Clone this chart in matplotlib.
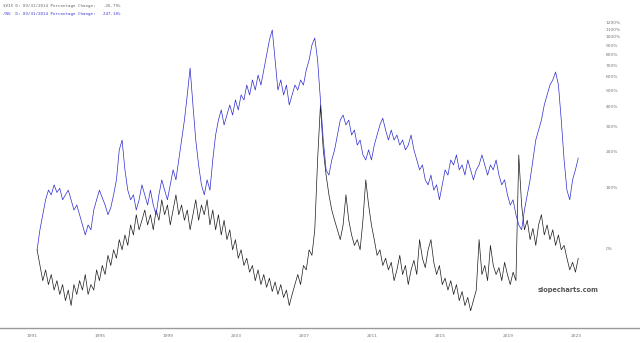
import matplotlib.pyplot as plt
import numpy as np

# bi-monthly samples, percentage change since start
start_year = 1991.3
step = 1 / 6

ng_pct = [
    -2, 23, 46, 73, 93, 83, 105, 88, 97, 73, 83, 93, 73, 54, 63, 46, 30, 16, 30, 23,
    54, 73, 93, 77, 63, 46, 58, 83, 117, 205, 241, 143, 93, 73, 83, 54, 73, 105, 83, 63,
    93, 63, 46, 83, 117, 93, 73, 105, 143, 117, 172, 241, 328, 469, 673, 408, 241, 157, 105, 83,
    117, 93, 172, 261, 328, 380, 305, 353, 408, 353, 438, 380, 469, 438, 537, 469, 575, 502, 614, 537,
    656, 796, 963, 1091, 747, 502, 575, 469, 537, 408, 469, 537, 502, 575, 537, 656, 747, 904, 987, 747,
    438, 241, 143, 129, 172, 205, 261, 328, 353, 305, 328, 261, 282, 222, 241, 188, 172, 205, 172, 222,
    261, 305, 337, 282, 241, 282, 241, 261, 222, 241, 205, 222, 261, 205, 172, 143, 157, 117, 105, 129,
    93, 105, 73, 105, 143, 129, 172, 157, 188, 143, 157, 129, 172, 143, 117, 143, 157, 188, 157, 129,
    157, 143, 172, 129, 105, 117, 83, 63, 73, 46, 30, 23, 54, 83, 117, 172, 241, 282, 328, 408,
    469, 537, 575, 639, 537, 328, 172, 93, 73, 117, 143, 178,
]

vix_pct = [
    -2, -18, -31, -22, -34, -26, -38, -31, -41, -34, -45, -38, -48, -34, -41, -31, -38, -26, -41, -34,
    -38, -22, -31, -18, -26, -8, -18, -2, -11, 10, -2, 16, 3, 30, 16, 46, 23, 37, 54, 30,
    46, 23, 54, 37, 73, 46, 63, 30, 54, 83, 46, 63, 37, 54, 23, 46, 73, 37, 63, 46,
    73, 30, 54, 23, 46, 16, 37, 10, 23, -2, 10, -11, -2, -18, -11, -24, -18, -31, -22, -34,
    -26, -36, -29, -39, -32, -41, -34, -43, -38, -48, -41, -34, -26, -34, -18, -22, -2, -8, 23, 172,
    408, 205, 129, 83, 54, 37, 23, 10, 30, 83, 37, 16, 3, 10, -2, 37, 117, 63, 30, 10,
    -8, -2, -18, -11, -22, -15, -31, -22, -8, -26, -18, -34, -22, -13, -26, 10, -11, -20, -2, 10,
    -15, -26, -18, -34, -29, -38, -31, -41, -34, -45, -39, -48, -43, -51, -45, -38, 10, -26, -18, -31,
    3, -18, -26, -20, -31, -15, -26, -34, -24, -31, 188, 63, 23, 37, 10, 25, 3, 30, 46, 16,
    30, 10, 23, 3, 16, -2, 3, -11, -22, -15, -24, -11,
]

year_ticks = [1991, 1995, 1999, 2003, 2007, 2011, 2015, 2019, 2023]
pct_ticks = list(range(0, 1300, 100))

years = start_year + step * np.arange(len(ng_pct))


def to_log(pct):
    return np.log1p(np.asarray(pct, dtype=float) / 100.0)


fig = plt.figure(figsize=(6.4, 3.43), dpi=100)
ax = fig.add_axes([0.0, 0.0437, 600 / 640, 0.9563])

ax.plot(years, to_log(vix_pct), color="#1a1a1a", lw=0.5)
ax.plot(years, to_log(ng_pct), color="#2b2bd0", lw=0.5)

ax.set_xlim(1991 - 32 / 17, 1991 + 568 / 17)
ax.set_ylim(-0.909, 2.818)

ax.set_xticks(year_ticks)
ax.set_xticklabels([str(y) for y in year_ticks], fontsize=3.2, color="#777777")
ax.set_yticks(to_log(pct_ticks))
ax.set_yticklabels([f"{p}%" for p in pct_ticks], fontsize=3.2, color="#777777")
ax.yaxis.tick_right()
ax.tick_params(axis="both", length=0, pad=4)

for side in ["top", "left", "right", "bottom"]:
    ax.spines[side].set_visible(False)
ax.patch.set_visible(False)

# full-width baseline under the plot
fig.add_artist(plt.Line2D([0, 1], [0.0437, 0.0437], transform=fig.transFigure,
                          color="#999999", lw=1.0))

fig.text(0.004, 0.988, "$VIX D: 03/31/2014 Percentage Change:   -26.79%",
         family="DejaVu Sans Mono", fontsize=3.0, color="#666666", va="top")
fig.text(0.004, 0.965, "/NG  D: 03/31/2014 Percentage Change:   247.18%",
         family="DejaVu Sans Mono", fontsize=3.0, color="#3a3ad0", va="top")
fig.text(0.935, 0.155, "slopecharts.com", fontsize=4.8, fontweight="bold",
         color="#555555", ha="right", va="center")

fig.savefig("out.png", dpi=100)
